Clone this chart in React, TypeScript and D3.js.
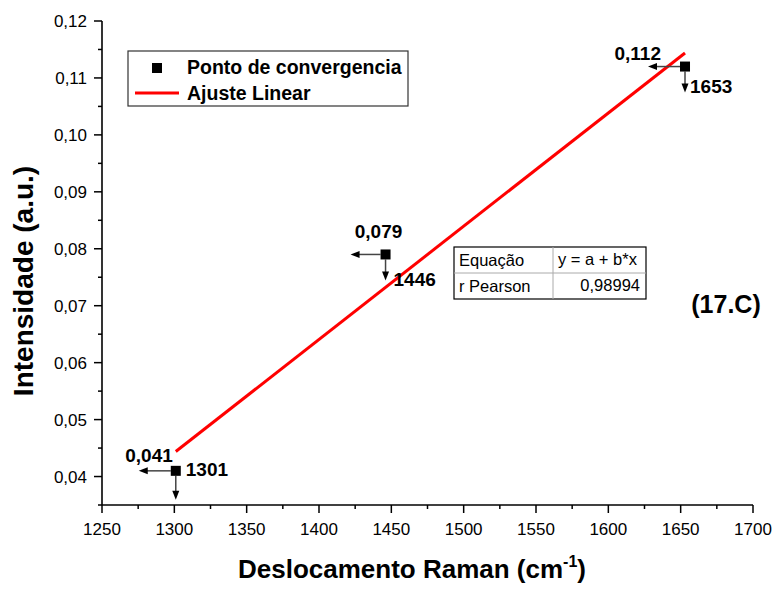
import React from "react";
import * as d3 from "d3";

// ---- data ----
const xValues = [1301, 1446, 1653];
const yValues = [0.041, 0.079, 0.112];
const xValueLabels = ["1301", "1446", "1653"];
const yValueLabels = ["0,041", "0,079", "0,112"];
const xTicks = [1250, 1300, 1350, 1400, 1450, 1500, 1550, 1600, 1650, 1700];
const yTicks = [0.04, 0.05, 0.06, 0.07, 0.08, 0.09, 0.1, 0.11, 0.12];
const xMinorTicks = [1275, 1325, 1375, 1425, 1475, 1525, 1575, 1625, 1675];
const yMinorTicks = [0.035, 0.045, 0.055, 0.065, 0.075, 0.085, 0.095, 0.105, 0.115];
const tableRows = [
  ["Equação", "y = a + b*x"],
  ["r Pearson", "0,98994"],
];
const legendLabels = ["Ponto de convergencia", "Ajuste Linear"];

// annotation placement (pixel offsets relative to each marker)
const annOffsets = [
  { ylx: -3, yly: -9, ylAnchor: "end", xlx: 10, xly: 5, hTip: 37, vTip: 29 },
  { ylx: -7, yly: -16, ylAnchor: "middle", xlx: 8, xly: 32, hTip: 35, vTip: 26 },
  { ylx: -24, yly: -7, ylAnchor: "end", xlx: 5, xly: 26, hTip: 37, vTip: 26 },
];

const W = 775;
const H = 589;
const FONT = "Arial, 'Liberation Sans', Helvetica, sans-serif";

export default function App() {
  const x = d3.scaleLinear().domain([1250, 1700]).range([102, 753]);
  const y = d3.scaleLinear().domain([0.035, 0.12]).range([505, 21]);

  // least squares fit
  const xm = d3.mean(xValues)!;
  const ym = d3.mean(yValues)!;
  let sxy = 0, sxx = 0;
  xValues.forEach((xv, i) => {
    sxy += (xv - xm) * (yValues[i] - ym);
    sxx += (xv - xm) * (xv - xm);
  });
  const b = sxy / sxx;
  const a = ym - b * xm;
  const fitX = d3.extent(xValues) as [number, number];
  const fitLine = d3
    .line<number>()
    .x((d) => x(d))
    .y((d) => y(a + b * d))(fitX);

  const x0 = x.range()[0];
  const y0 = y.range()[0];

  const arrowHead = (tx: number, ty: number, dir: "left" | "down") => {
    const L = 9, Wd = 3.5;
    if (dir === "left")
      return `M${tx},${ty} L${tx + L},${ty - Wd} L${tx + L},${ty + Wd} Z`;
    return `M${tx},${ty} L${tx - Wd},${ty - L} L${tx + Wd},${ty - L} Z`;
  };

  // table geometry
  const tX = 454, tY = 247, tW = 192, rowH = 26, colX = 553;

  return (
    <svg
      width={W}
      height={H}
      style={{ position: "absolute", left: 0, top: 0, background: "#fff" }}
      fontFamily={FONT}
    >
      <rect x={0} y={0} width={W} height={H} fill="#fff" />

      {/* axes */}
      <line x1={x0} y1={y(0.12)} x2={x0} y2={y0} stroke="#000" strokeWidth={1.6} />
      <line x1={x0} y1={y0} x2={x(1700)} y2={y0} stroke="#000" strokeWidth={1.6} />

      {yTicks.map((t) => (
        <g key={"yt" + t}>
          <line x1={x0 - 8} x2={x0} y1={y(t)} y2={y(t)} stroke="#000" strokeWidth={1.5} />
          <text x={x0 - 15} y={y(t) + 6} textAnchor="end" fontSize={17} fill="#000">
            {d3.format(".2f")(t).replace(".", ",")}
          </text>
        </g>
      ))}
      {yMinorTicks.map((t) => (
        <line key={"ym" + t} x1={x0 - 4} x2={x0} y1={y(t)} y2={y(t)} stroke="#000" strokeWidth={1.5} />
      ))}
      {xTicks.map((t) => (
        <g key={"xt" + t}>
          <line x1={x(t)} x2={x(t)} y1={y0} y2={y0 + 8} stroke="#000" strokeWidth={1.5} />
          <text x={x(t)} y={y0 + 30} textAnchor="middle" fontSize={17} fill="#000">
            {t}
          </text>
        </g>
      ))}
      {xMinorTicks.map((t) => (
        <line key={"xm" + t} x1={x(t)} x2={x(t)} y1={y0} y2={y0 + 4} stroke="#000" strokeWidth={1.5} />
      ))}

      {/* axis titles */}
      <text
        transform={`translate(33,${(y(0.12) + y0) / 2 + 18}) rotate(-90)`}
        textAnchor="middle"
        fontSize={28}
        fontWeight="bold"
        fill="#000"
      >
        Intensidade (a.u.)
      </text>
      <text x={412} y={578} textAnchor="middle" fontSize={26} fontWeight="bold" fill="#000">
        Deslocamento Raman (cm
        <tspan fontSize={16} dy={-11}>-1</tspan>
        <tspan dy={11}>)</tspan>
      </text>

      {/* fit line */}
      <path d={fitLine!} stroke="#ff0000" strokeWidth={3} fill="none" />

      {/* points with annotations */}
      {xValues.map((xv, i) => {
        const px = x(xv);
        const py = y(yValues[i]);
        const o = annOffsets[i];
        return (
          <g key={"p" + i}>
            <line x1={px - 5} y1={py} x2={px - o.hTip + 6} y2={py} stroke="#444" strokeWidth={1.5} />
            <path d={arrowHead(px - o.hTip, py, "left")} fill="#000" />
            <line x1={px} y1={py + 5} x2={px} y2={py + o.vTip - 6} stroke="#444" strokeWidth={1.5} />
            <path d={arrowHead(px, py + o.vTip, "down")} fill="#000" />
            <rect x={px - 5} y={py - 5} width={10} height={10} fill="#000" />
            <text
              x={px + o.ylx}
              y={py + o.yly}
              textAnchor={o.ylAnchor as any}
              fontSize={19}
              fontWeight="bold"
              fill="#000"
            >
              {yValueLabels[i]}
            </text>
            <text x={px + o.xlx} y={py + o.xly} fontSize={19} fontWeight="bold" fill="#000">
              {xValueLabels[i]}
            </text>
          </g>
        );
      })}

      {/* legend */}
      <rect x={128} y={51} width={280} height={55} fill="#fff" stroke="#333" strokeWidth={1.2} />
      <rect x={152} y={63} width={10} height={10} fill="#000" />
      <text x={187} y={74} fontSize={19.5} fontWeight="bold" fill="#000">
        {legendLabels[0]}
      </text>
      <line x1={135} x2={179} y1={93} y2={93} stroke="#ff0000" strokeWidth={3} />
      <text x={187} y={100} fontSize={19.5} fontWeight="bold" fill="#000">
        {legendLabels[1]}
      </text>

      {/* stats table */}
      <rect x={tX} y={tY} width={tW} height={rowH * 2} fill="#fff" stroke="#000" strokeWidth={1.2} />
      <line x1={tX} x2={tX + tW} y1={tY + rowH} y2={tY + rowH} stroke="#aaa" strokeWidth={1} />
      <line x1={colX} x2={colX} y1={tY} y2={tY + rowH * 2} stroke="#aaa" strokeWidth={1} />
      {tableRows.map((r, i) => (
        <g key={"tr" + i}>
          <text x={tX + 5} y={tY + rowH * i + 19} fontSize={16.5} fill="#000">
            {r[0]}
          </text>
          <text
            x={i === 0 ? colX + 5 : tX + tW - 6}
            y={tY + rowH * i + 18}
            textAnchor={i === 0 ? "start" : "end"}
            fontSize={16.5}
            fill="#000"
          >
            {r[1]}
          </text>
        </g>
      ))}

      {/* panel label */}
      <text x={726} y={313} textAnchor="middle" fontSize={25} fontWeight="bold" fill="#000">
        (17.C)
      </text>
    </svg>
  );
}
